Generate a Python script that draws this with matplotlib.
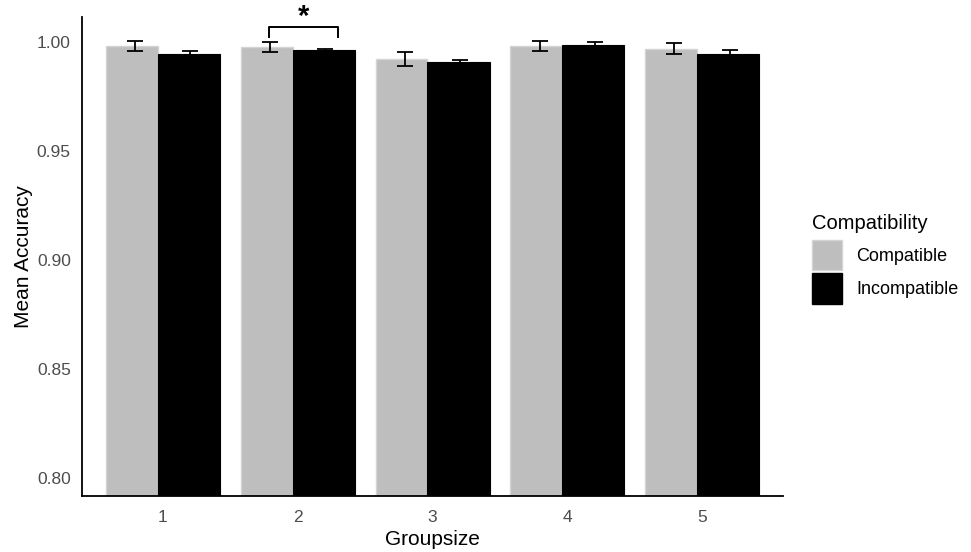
import numpy as np
import matplotlib
matplotlib.use("Agg")
import matplotlib.pyplot as plt
from matplotlib.patches import Patch

groups = ["1", "2", "3", "4", "5"]
compatible = [0.9982, 0.9974, 0.9919, 0.9982, 0.9967]
compatible_se = [0.0023, 0.0023, 0.0032, 0.0023, 0.0025]
incompatible = [0.9944, 0.9962, 0.9905, 0.9983, 0.9944]
incompatible_se = [0.0013, 0.0004, 0.0012, 0.0014, 0.0018]

GRAY = "#bebebe"
plt.rcParams["font.family"] = ["Liberation Sans", "DejaVu Sans"]

fig = plt.figure(figsize=(9.71, 5.52), dpi=100)
ax = fig.add_axes([0.0844, 0.1014, 0.7220, 0.8678])

x = np.arange(1, len(groups) + 1)
dodge = 0.205
# the black bars sit slightly over the gray ones
ax.bar(x - 0.4225, compatible, 0.3855, align="edge", color=GRAY,
       edgecolor="#d4d4d4", linewidth=1.0)
ax.bar(x - 0.037, incompatible, 0.46, align="edge", color="black",
       edgecolor="black", linewidth=0.8)
ax.errorbar(x - dodge, compatible, yerr=compatible_se, fmt="none", ecolor="black",
            elinewidth=1.3, capsize=6, capthick=1.3)
ax.errorbar(x + dodge, incompatible, yerr=incompatible_se, fmt="none", ecolor="black",
            elinewidth=1.3, capsize=6, capthick=1.3)

# significance bracket for groupsize 2
bx0, bx1, by, bleg = 1.79, 2.30, 1.0066, 1.0023
ax.plot([bx0, bx0, bx1, bx1], [bleg, by, by, bleg], color="black", lw=1.4, clip_on=False)
ax.text((bx0 + bx1) / 2, by - 0.0018, "*", ha="center", va="bottom", fontsize=21,
        fontweight="bold", clip_on=False)

ax.set_xlim(0.4, 5.6)
ax.set_ylim(0.7915, 1.0113)
ax.set_xticks(x)
ax.set_xticklabels(groups)
ax.set_yticks([0.80, 0.85, 0.90, 0.95, 1.00])
ax.set_yticklabels(["0.80", "0.85", "0.90", "0.95", "1.00"])
ax.tick_params(axis="both", length=0, labelsize=12.5, labelcolor="#4d4d4d")
ax.tick_params(axis="x", pad=10)
ax.tick_params(axis="y", pad=8)
for side in ["top", "right"]:
    ax.spines[side].set_visible(False)
for side in ["left", "bottom"]:
    ax.spines[side].set_linewidth(1.3)

ax.set_xlabel("Groupsize", fontsize=15, labelpad=4)
ax.set_ylabel("Mean Accuracy", fontsize=15, labelpad=3)

handles = [Patch(facecolor=GRAY, edgecolor="#d4d4d4", label="Compatible"),
           Patch(facecolor="black", edgecolor="black", label="Incompatible")]
leg = fig.legend(handles=handles, title="Compatibility", loc="upper left",
                 bbox_to_anchor=(0.836, 0.613), frameon=False, fontsize=13,
                 title_fontsize=14.5, handlelength=1.7, handleheight=2.25,
                 labelspacing=0.15, handletextpad=0.75, borderaxespad=0,
                 borderpad=0)
leg._legend_box.align = "left"
leg._legend_box.sep = 5

fig.savefig("out.png", dpi=100)
